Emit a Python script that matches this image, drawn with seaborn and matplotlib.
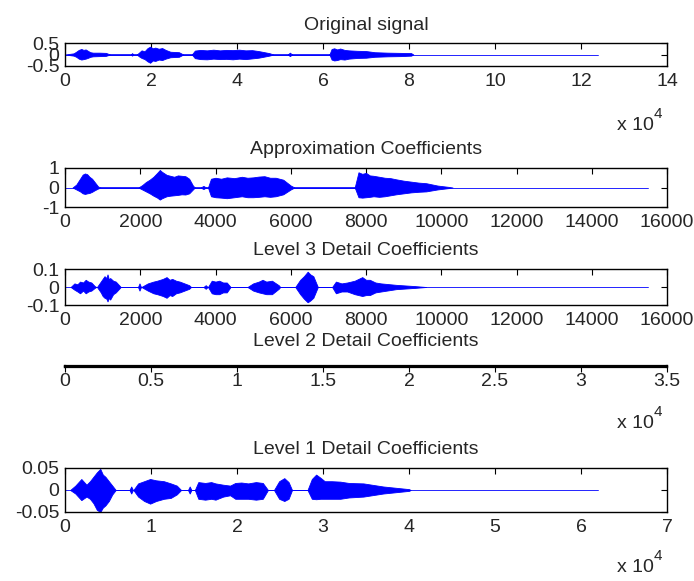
import matplotlib
matplotlib.use("Agg")
import matplotlib.pyplot as plt
import seaborn as sns

# burst envelopes: x in samples, upper and lower bound
orig_x = [0, 2000, 2600, 3200, 3800, 4300, 4800, 5400, 5900, 6500, 8000, 9500, 10500,
          15300, 15600, 15900,
          16700, 17200, 17800, 18500, 19200, 19800, 20400, 21000, 21800, 22600, 23400, 24500, 26500, 27500,
          29500, 30200, 31500, 33000, 34500, 36000, 37500, 39000, 40500, 42000, 43500, 45000, 47500, 48500,
          51800, 52300, 52800,
          61500, 62000, 62600, 63300, 64000, 65000, 66000, 68000, 70000, 72000, 75000, 78000, 80500, 81000]
orig_hi = [0, 0.05, 0.12, 0.2, 0.24, 0.2, 0.22, 0.15, 0.1, 0.08, 0.08, 0.07, 0,
           0, 0.06, 0,
           0, 0.08, 0.18, 0.14, 0.28, 0.34, 0.27, 0.3, 0.25, 0.28, 0.2, 0.12, 0.1, 0,
           0, 0.17, 0.2, 0.18, 0.21, 0.18, 0.2, 0.19, 0.21, 0.18, 0.19, 0.15, 0.06, 0,
           0, 0.08, 0,
           0, 0.24, 0.27, 0.22, 0.26, 0.2, 0.18, 0.16, 0.15, 0.1, 0.08, 0.07, 0.06, 0]
orig_lo = [0, -0.05, -0.1, -0.18, -0.22, -0.2, -0.18, -0.14, -0.1, -0.08, -0.07, -0.06, 0,
           0, -0.05, 0,
           0, -0.08, -0.15, -0.2, -0.3, -0.36, -0.26, -0.28, -0.22, -0.24, -0.18, -0.12, -0.1, 0,
           0, -0.16, -0.2, -0.21, -0.18, -0.2, -0.19, -0.21, -0.18, -0.2, -0.17, -0.14, -0.05, 0,
           0, -0.07, 0,
           0, -0.22, -0.26, -0.24, -0.2, -0.22, -0.18, -0.15, -0.14, -0.1, -0.08, -0.07, -0.05, 0]
orig_len = 124000

appr_x = [200, 300, 400, 470, 530, 590, 650, 720, 780, 880, 950,
          1950, 2050, 2150, 2250, 2350, 2450, 2520, 2580, 2700, 2800, 2900, 3000, 3100, 3200, 3300, 3400, 3450,
          3600, 3680, 3750,
          3800, 3880, 4000, 4150, 4300, 4500, 4700, 4850, 5000, 5150, 5300, 5450, 5600, 5800, 6000, 6100,
          7700, 7800, 7900, 8000, 8100, 8200, 8350, 8500, 8650, 8800, 9000, 9200, 9400, 9600, 9900, 10200, 10300]
appr_hi = [0, 0.15, 0.45, 0.66, 0.72, 0.68, 0.55, 0.45, 0.3, 0.05, 0,
           0, 0.12, 0.28, 0.4, 0.55, 0.75, 0.9, 0.8, 0.65, 0.6, 0.55, 0.62, 0.6, 0.58, 0.45, 0.1, 0,
           0, 0.08, 0,
           0, 0.45, 0.5, 0.45, 0.52, 0.48, 0.55, 0.5, 0.52, 0.56, 0.58, 0.5, 0.5, 0.4, 0.1, 0,
           0, 0.78, 0.7, 0.75, 0.62, 0.6, 0.55, 0.5, 0.48, 0.42, 0.35, 0.3, 0.25, 0.22, 0.1, 0.03, 0]
appr_lo = [0, -0.1, -0.2, -0.3, -0.33, -0.3, -0.28, -0.22, -0.15, -0.05, 0,
           0, -0.1, -0.2, -0.3, -0.42, -0.52, -0.62, -0.55, -0.45, -0.42, -0.4, -0.38, -0.35, -0.36, -0.3, -0.1, 0,
           0, -0.08, 0,
           0, -0.45, -0.5, -0.52, -0.55, -0.5, -0.45, -0.5, -0.5, -0.48, -0.45, -0.48, -0.45, -0.35, -0.1, 0,
           0, -0.5, -0.52, -0.5, -0.48, -0.45, -0.48, -0.45, -0.4, -0.35, -0.3, -0.25, -0.22, -0.2, -0.1, -0.03, 0]
appr_len = 15500

d3_x = [150, 250, 330, 400, 480, 550, 620, 700, 790, 830,
        850, 950, 1000, 1050, 1100, 1130, 1170, 1200, 1280, 1350, 1460, 1480,
        1940, 1980, 2020,
        2030, 2200, 2350, 2450, 2600, 2700, 2780, 2850, 2950, 3050, 3300, 3350,
        3680, 3740, 3790,
        3800, 3900, 4000, 4100, 4200, 4300, 4400,
        4850, 5000, 5150, 5250, 5350, 5500, 5680, 5720,
        6120, 6250, 6350, 6450, 6520, 6600, 6700, 6720,
        7100, 7200, 7350, 7500, 7700, 7900, 8000, 8100, 8250, 8400, 8800, 9300, 9600]
d3_hi = [0, 0.02, 0.015, 0.03, 0.025, 0.04, 0.03, 0.025, 0.005, 0,
         0, 0.03, 0.045, 0.06, 0.05, 0.07, 0.04, 0.05, 0.035, 0.03, 0.005, 0,
         0, 0.02, 0,
         0, 0.02, 0.03, 0.035, 0.045, 0.055, 0.04, 0.045, 0.035, 0.03, 0.01, 0,
         0, 0.01, 0,
         0, 0.035, 0.03, 0.035, 0.025, 0.025, 0,
         0, 0.02, 0.03, 0.04, 0.03, 0.035, 0.01, 0,
         0, 0.04, 0.06, 0.085, 0.07, 0.06, 0.01, 0,
         0, 0.03, 0.02, 0.025, 0.035, 0.055, 0.04, 0.04, 0.025, 0.02, 0.012, 0.005, 0]
d3_lo = [0, -0.015, -0.025, -0.035, -0.02, -0.035, -0.025, -0.02, -0.005, 0,
         0, -0.03, -0.05, -0.06, -0.065, -0.08, -0.06, -0.07, -0.04, -0.03, -0.005, 0,
         0, -0.02, 0,
         0, -0.02, -0.035, -0.04, -0.05, -0.06, -0.045, -0.05, -0.035, -0.03, -0.01, 0,
         0, -0.01, 0,
         0, -0.035, -0.04, -0.04, -0.03, -0.03, 0,
         0, -0.02, -0.03, -0.035, -0.04, -0.04, -0.01, 0,
         0, -0.04, -0.065, -0.085, -0.075, -0.06, -0.01, 0,
         0, -0.035, -0.025, -0.025, -0.04, -0.05, -0.045, -0.045, -0.03, -0.025, -0.012, -0.005, 0]
d3_len = 15500

d1_x = [600, 1200, 1900, 2500, 2900, 3300, 3700, 4100, 4400, 4700, 5100, 5500, 5900,
        7500, 7700, 7900,
        7950, 8500, 9200, 9900, 10600, 11500, 12300, 13000, 13500,
        14300, 14500, 14700,
        15100, 15500, 16300, 17000, 17500, 18400, 19200, 19800, 20500, 21300, 22200, 23000, 23600,
        24300, 24900, 25500, 26000, 26400,
        28200, 28700, 29200, 29700, 30200, 31000, 32000, 33000, 34700, 37000, 40000, 40200]
d1_hi = [0, 0.01, 0.025, 0.012, 0.02, 0.03, 0.04, 0.048, 0.035, 0.03, 0.02, 0.01, 0,
         0, 0.008, 0,
         0, 0.015, 0.02, 0.025, 0.022, 0.02, 0.015, 0.01, 0,
         0, 0.008, 0,
         0, 0.018, 0.016, 0.018, 0.015, 0.012, 0.01, 0.016, 0.017, 0.015, 0.018, 0.016, 0,
         0, 0.02, 0.027, 0.018, 0,
         0, 0.025, 0.035, 0.028, 0.02, 0.02, 0.019, 0.016, 0.015, 0.008, 0.002, 0]
d1_lo = [0, -0.008, -0.023, -0.015, -0.02, -0.03, -0.045, -0.05, -0.04, -0.035, -0.025, -0.01, 0,
         0, -0.008, 0,
         0, -0.015, -0.025, -0.031, -0.025, -0.02, -0.018, -0.01, 0,
         0, -0.008, 0,
         0, -0.02, -0.022, -0.02, -0.022, -0.015, -0.012, -0.02, -0.02, -0.02, -0.022, -0.02, 0,
         0, -0.02, -0.025, -0.02, 0,
         0, -0.02, -0.021, -0.02, -0.02, -0.02, -0.02, -0.017, -0.015, -0.008, -0.002, 0]
d1_len = 62000

titles = ["Original signal", "Approximation Coefficients", "Level 3 Detail Coefficients",
          "Level 2 Detail Coefficients", "Level 1 Detail Coefficients"]

ticks_e4_14 = [0, 20000, 40000, 60000, 80000, 100000, 120000, 140000]
labels_e4_14 = ["0", "2", "4", "6", "8", "10", "12", "14"]
ticks_16k = [0, 2000, 4000, 6000, 8000, 10000, 12000, 14000, 16000]
labels_16k = ["0", "2000", "4000", "6000", "8000", "10000", "12000", "14000", "16000"]
ticks_e4_35 = [0, 5000, 10000, 15000, 20000, 25000, 30000, 35000]
labels_e4_35 = ["0", "0.5", "1", "1.5", "2", "2.5", "3", "3.5"]
ticks_e4_7 = [0, 10000, 20000, 30000, 40000, 50000, 60000, 70000]
labels_e4_7 = ["0", "1", "2", "3", "4", "5", "6", "7"]

sns.set_style("white")
plt.rcParams["font.family"] = ["Liberation Sans", "DejaVu Sans"]
plt.rcParams["font.size"] = 14

W, H = 694, 581
fig = plt.figure(figsize=(W / 100, H / 100), dpi=100)


def rect(top, bottom):
    return [65 / W, 1 - bottom / H, (667 - 65) / W, (bottom - top) / H]


def panel(box, title, ex, ehi, elo, n, xticks, xlabels, yticks, ylabels, ylim, pad,
          exp_px=None, spine_w=1.0):
    ax = fig.add_axes(box)
    if ex:
        ax.fill_between(ex, elo, ehi, color="blue", lw=0.6, edgecolor="blue")
    if n:
        sns.lineplot(x=[0, n], y=[0, 0], color="blue", lw=0.6, ax=ax)
    ax.set_xlim(xticks[0], xticks[-1])
    ax.set_ylim(*ylim)
    ax.set_xticks(xticks)
    ax.set_xticklabels(xlabels)
    ax.set_yticks(yticks)
    ax.set_yticklabels(ylabels)
    ax.tick_params(direction="in", top=True, right=True, length=4, width=0.8,
                   color="black", labelsize=14, pad=5)
    ax.tick_params(axis="y", pad=4)
    for s in ax.spines.values():
        s.set_color("black")
        s.set_linewidth(spine_w)
    ax.set_title(title, fontsize=14, pad=pad)
    if exp_px is not None:
        fig.text(617 / W, 1 - exp_px / H, "x 10", fontsize=14, va="center", ha="left")
        fig.text(654 / W, 1 - (exp_px - 12) / H, "4", fontsize=11, va="center", ha="left")
    return ax


panel(rect(43, 66), titles[0], orig_x, orig_hi, orig_lo, orig_len,
      ticks_e4_14, labels_e4_14, [-0.5, 0, 0.5], ["-0.5", "0", "0.5"], (-0.5, 0.5), 9, 126)
panel(rect(168, 207), titles[1], appr_x, appr_hi, appr_lo, appr_len,
      ticks_16k, labels_16k, [-1, 0, 1], ["-1", "0", "1"], (-1, 1), 10)
panel(rect(269, 305), titles[2], d3_x, d3_hi, d3_lo, d3_len,
      ticks_16k, labels_16k, [-0.1, 0, 0.1], ["-0.1", "0", "0.1"], (-0.1, 0.1), 10)
panel(rect(365.5, 366.5), titles[3], [], [], [], None,
      ticks_e4_35, labels_e4_35, [], [], (-1, 1), 14, 424, spine_w=1.6)
panel(rect(468, 512), titles[4], d1_x, d1_hi, d1_lo, d1_len,
      ticks_e4_7, labels_e4_7, [-0.05, 0, 0.05], ["-0.05", "0", "0.05"], (-0.05, 0.05), 10, 568)

fig.savefig("out.png", dpi=100)
